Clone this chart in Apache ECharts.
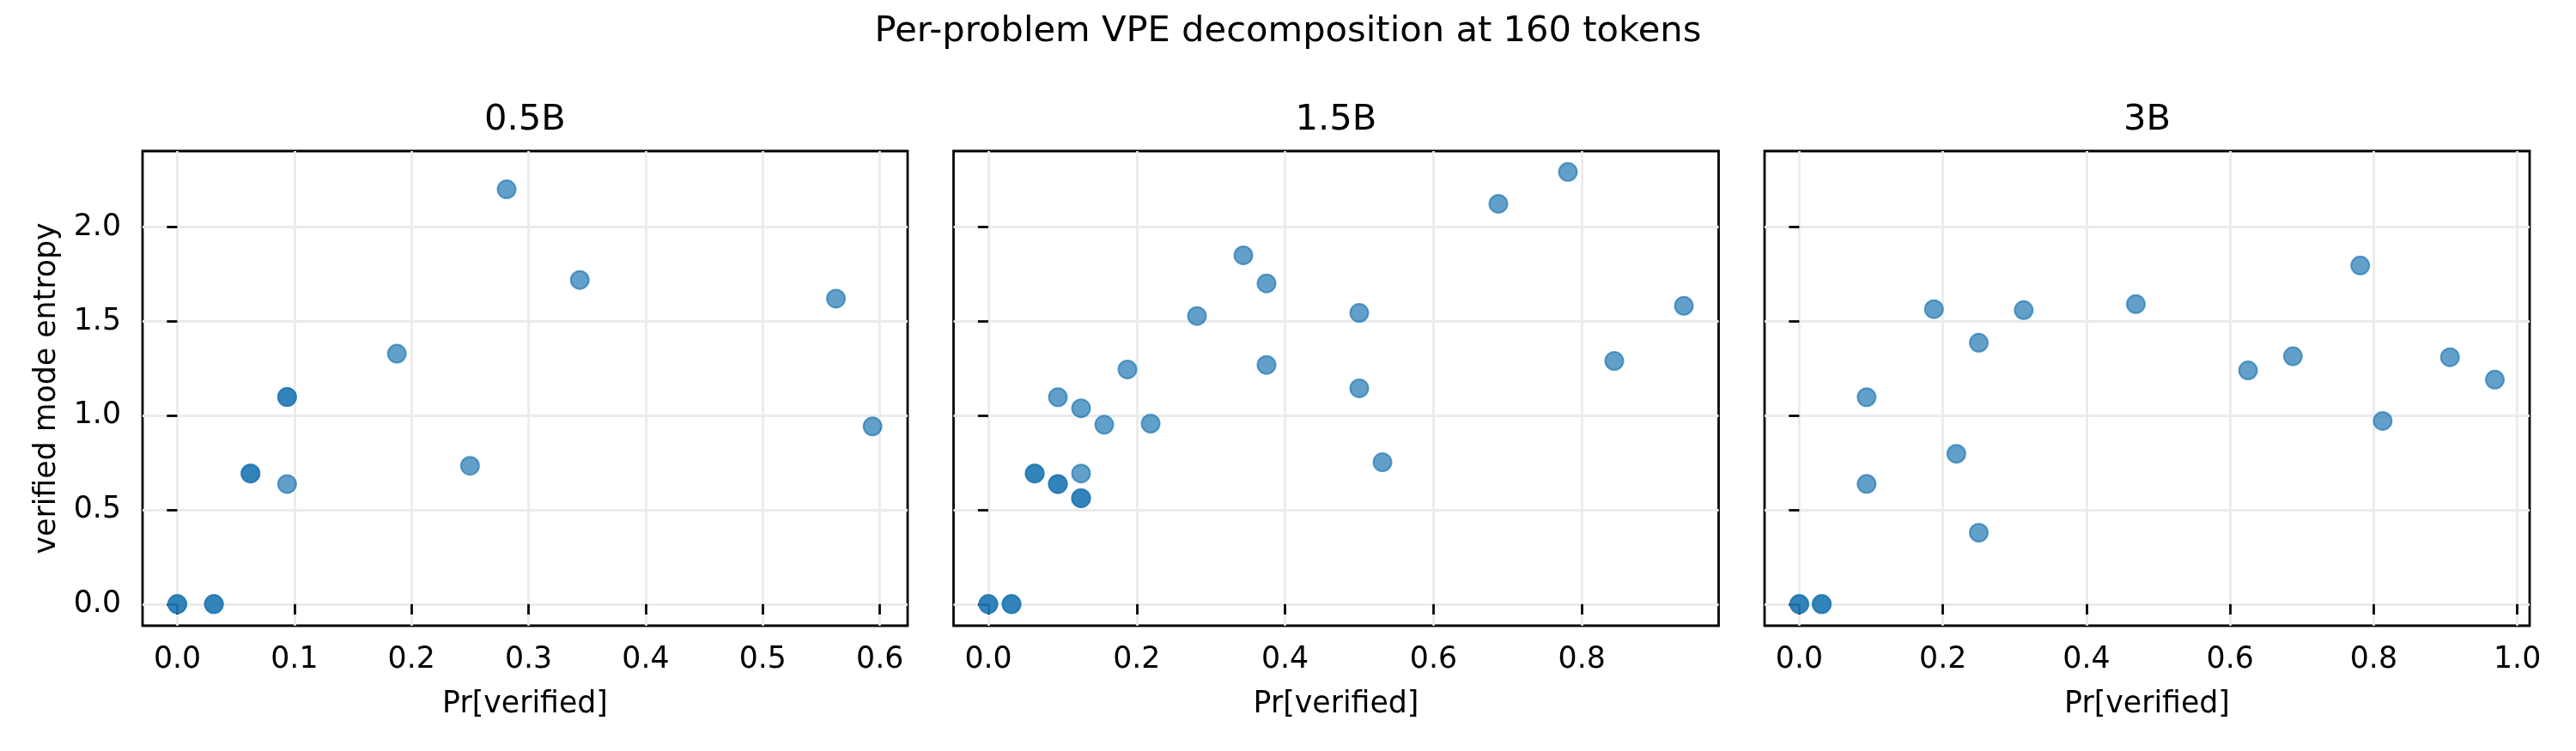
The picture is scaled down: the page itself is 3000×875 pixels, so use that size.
<!DOCTYPE html>
<html>
<head>
<meta charset="utf-8">
<script src="https://cdn.jsdelivr.net/npm/echarts@6/dist/echarts.min.js"></script>
<style>
  html, body { margin: 0; padding: 0; background: #fff; }
  #chart { width: 3000px; height: 875px; }
</style>
</head>
<body>
<div id="chart"></div>
<script>
// ---------- data ----------
const suptitle = 'Per-problem VPE decomposition at 160 tokens';
const panelTitles = ['0.5B', '1.5B', '3B'];
const xAxisName = 'Pr[verified]';
const yAxisName = 'verified mode entropy';

const yTicks = [0, 0.5, 1.0, 1.5, 2.0];
const xTicks05 = [0, 0.1, 0.2, 0.3, 0.4, 0.5, 0.6];
const xTicks15 = [0, 0.2, 0.4, 0.6, 0.8];
const xTicks3 = [0, 0.2, 0.4, 0.6, 0.8, 1.0];

const yRange = [-0.1145, 2.404];
const xRange05 = [-0.0297, 0.6237];
const xRange15 = [-0.0469, 0.9844];
const xRange3 = [-0.0484, 1.0172];

// 0.5B
const pr05 = [0, 0, 0.03125, 0.03125, 0.0625, 0.0625, 0.09375, 0.09375, 0.09375,
  0.1875, 0.25, 0.28125, 0.34375, 0.5625, 0.59375];
const ent05 = [0, 0, 0, 0, 0.693, 0.693, 1.099, 1.099, 0.637,
  1.329, 0.734, 2.201, 1.720, 1.621, 0.943];

// 1.5B
const pr15 = [0, 0, 0.03125, 0.03125, 0.0625, 0.0625, 0.09375, 0.09375, 0.125, 0.125,
  0.125, 0.09375, 0.125, 0.15625, 0.1875, 0.21875, 0.28125, 0.34375, 0.375, 0.375,
  0.5, 0.5, 0.53125, 0.6875, 0.78125, 0.84375, 0.9375];
const ent15 = [0, 0, 0, 0, 0.693, 0.693, 0.637, 0.637, 0.562, 0.562,
  0.693, 1.098, 1.039, 0.952, 1.245, 0.958, 1.529, 1.851, 1.702, 1.269,
  1.545, 1.145, 0.753, 2.124, 2.293, 1.290, 1.583];

// 3B
const pr3 = [0, 0, 0.03125, 0.03125, 0.09375, 0.09375, 0.1875, 0.21875, 0.25, 0.25,
  0.3125, 0.46875, 0.625, 0.6875, 0.78125, 0.8125, 0.90625, 0.96875];
const ent3 = [0, 0, 0, 0, 1.098, 0.638, 1.565, 0.798, 1.387, 0.379,
  1.560, 1.592, 1.240, 1.315, 1.797, 0.972, 1.310, 1.191];

// ---------- layout / style ----------
const FONT = 'DejaVu Sans';
const PT = 250 / 72;
const gridsPx = [
  { left: 166, top: 176, width: 891, height: 553 },
  { left: 1110.5, top: 176, width: 891, height: 553 },
  { left: 2055, top: 176, width: 891, height: 553 }
];
const panels = [
  { pr: pr05, ent: ent05, xr: xRange05, xt: xTicks05 },
  { pr: pr15, ent: ent15, xr: xRange15, xt: xTicks15 },
  { pr: pr3, ent: ent3, xr: xRange3, xt: xTicks3 }
];
const lineW = 0.8 * PT;
const gridColor = '#ebebeb';
const pointColor = '#1f77b4';

const grid = gridsPx.map(g => Object.assign({
  show: true, borderColor: '#000', borderWidth: lineW, backgroundColor: 'transparent', containLabel: false
}, g));

const xAxis = panels.map((p, i) => ({
  type: 'value', gridIndex: i, min: p.xr[0], max: p.xr[1],
  name: xAxisName, nameLocation: 'middle', nameGap: 92,
  nameTextStyle: { fontFamily: FONT, fontSize: 10 * PT, color: '#000', verticalAlign: 'middle' },
  axisLine: { show: false },
  axisTick: { show: true, inside: false, length: 3.5 * PT, lineStyle: { color: '#000', width: lineW }, customValues: p.xt },
  axisLabel: { show: true, customValues: p.xt, formatter: v => v.toFixed(1), fontFamily: FONT, fontSize: 10 * PT,
    color: '#000', margin: 40, verticalAlign: 'middle' },
  splitLine: { show: true, lineStyle: { color: gridColor, width: lineW } }
}));

const yAxis = panels.map((p, i) => ({
  type: 'value', gridIndex: i, min: yRange[0], max: yRange[1],
  name: i === 0 ? yAxisName : '', nameLocation: 'middle', nameGap: 111,
  nameTextStyle: { fontFamily: FONT, fontSize: 10 * PT, color: '#000', verticalAlign: 'middle' },
  axisLine: { show: false },
  axisTick: { show: true, inside: false, length: 3.5 * PT, lineStyle: { color: '#000', width: lineW }, customValues: yTicks },
  axisLabel: { show: i === 0, customValues: yTicks, formatter: v => v.toFixed(1), fontFamily: FONT, fontSize: 10 * PT,
    color: '#000', margin: 25 },
  splitLine: { show: true, lineStyle: { color: gridColor, width: lineW } }
}));

const series = panels.map((p, i) => ({
  type: 'scatter', xAxisIndex: i, yAxisIndex: i,
  data: p.pr.map((x, k) => [x, p.ent[k]]),
  symbol: 'circle', symbolSize: 21,
  itemStyle: { color: pointColor, borderColor: pointColor, borderWidth: 2, opacity: 0.7 },
  emphasis: { disabled: true },
  animation: false
}));

const graphic = [
  { type: 'text', x: 1500, y: 37, style: { text: suptitle, font: `${12 * PT}px "${FONT}"`, fill: '#000', align: 'center', verticalAlign: 'middle' } }
].concat(gridsPx.map((g, i) => ({
  type: 'text', x: g.left + g.width / 2, y: 140,
  style: { text: panelTitles[i], font: `${12 * PT}px "${FONT}"`, fill: '#000', align: 'center', verticalAlign: 'middle' }
})));

const chart = echarts.init(document.getElementById('chart'), null, { renderer: 'canvas' });
chart.setOption({
  backgroundColor: '#fff',
  animation: false,
  grid, xAxis, yAxis, series, graphic
});
</script>
</body>
</html>
